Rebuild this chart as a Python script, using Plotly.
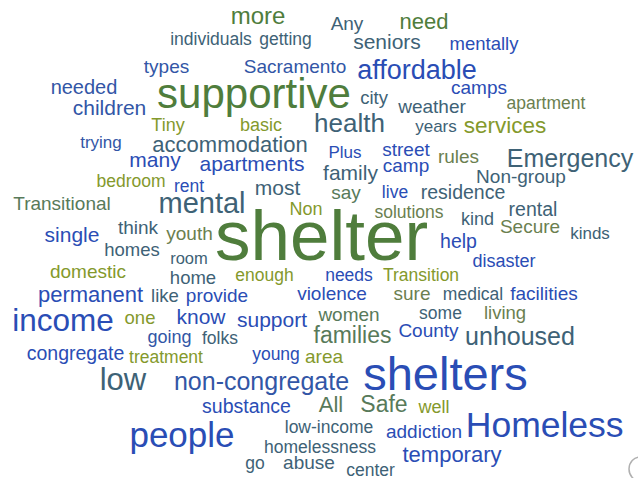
import plotly.graph_objects as go

BLUE = "#2a4db5"
BLUE2 = "#3256a6"
SLATE = "#3e6276"
GREEN = "#4f7d3c"
GGRAY = "#587a5a"
OLIVE = "#84992c"
OLGRAY = "#6b7f50"

words = ["more", "individuals", "getting", "Any", "need", "seniors", "mentally", "types",
         "Sacramento", "affordable", "needed", "supportive", "camps", "city", "weather",
         "apartment", "children", "Tiny", "basic", "health", "years", "services", "trying",
         "accommodation", "Plus", "street", "rules", "Emergency", "many", "apartments", "camp",
         "family", "Non-group", "bedroom", "rent", "most", "say", "live", "residence",
         "Transitional", "mental", "Non", "solutions", "rental", "kind", "Secure", "kinds",
         "think", "single", "youth", "shelter", "homes", "help", "room", "disaster",
         "domestic", "home", "enough", "needs", "Transition", "permanent", "like", "provide",
         "violence", "sure", "medical", "facilities", "income", "one", "know", "support",
         "women", "some", "living", "County", "families", "unhoused", "going", "folks",
         "congregate", "treatment", "young", "area", "low", "non-congregate", "shelters",
         "substance", "All", "Safe", "well", "people", "low-income", "addiction", "Homeless",
         "homelessness", "temporary", "go", "abuse", "center"]

word_x = [258, 211, 285.5, 347, 424, 387, 484, 166.5,
          295, 417, 84, 254, 479, 374, 432,
          546, 109.5, 168, 261, 349.5, 436, 505, 101,
          230, 345, 406, 458.5, 570, 155, 252, 406,
          350.5, 521, 131, 189, 277.5, 346, 395, 463,
          62, 202, 306, 409, 533, 477.5, 530, 590,
          138, 72, 189.5, 321.5, 132, 458.5, 189, 504,
          88, 193, 264.5, 349, 421, 90.5, 165, 217,
          332, 412, 473, 544, 63, 140, 201, 272,
          349, 440.5, 505, 428.5, 352.5, 520, 169.5, 220,
          75.5, 166, 276, 324, 123, 261.5, 445.5,
          246.5, 331, 384, 434, 182, 329, 424, 544.7,
          320, 452, 255, 309, 370.5]

word_baseline = [24, 45, 45, 30, 29, 49, 50, 73,
                 73, 79, 94, 108, 94, 104, 113,
                 109, 115, 131, 131, 132, 132, 133, 148,
                 152, 158, 156, 163, 167, 167, 171, 172,
                 180, 183, 187, 192, 195, 199, 198, 199,
                 210, 213, 215, 218, 216, 225, 233, 239,
                 234, 242, 240, 260, 256, 248, 264, 267,
                 278, 284, 281, 281, 281, 302, 302, 302,
                 300, 300, 300, 300, 331, 324, 324, 327,
                 321, 319, 319, 337, 343, 345, 343, 344,
                 360, 363, 360, 363, 390, 390, 390,
                 413, 412, 412, 413, 447, 433, 438, 437,
                 453, 462, 469, 469, 476]

word_size = [24, 17.5, 17.5, 19, 22, 21, 18.5, 19,
             19, 27, 20, 42, 19, 18.5, 19,
             17.5, 21, 18, 18, 26, 17, 22.5, 17,
             22, 17, 19, 19, 25, 21, 21, 19,
             21, 19, 17.5, 17.5, 21, 19, 17.5, 19.5,
             19, 29, 18, 17.5, 19.5, 18, 19, 17,
             19, 21, 19, 71, 18.5, 19.5, 16.5, 18,
             19, 18.5, 17.5, 17.5, 17.5, 22, 18.5, 19,
             19, 19, 17.5, 19, 31.5, 18.5, 21, 21,
             19, 17.5, 18.5, 19, 23, 25, 18, 17.5,
             19.5, 17.5, 17.5, 19, 31, 25, 47,
             19.5, 22, 23, 18, 35, 17.5, 19, 35.5,
             17.5, 22, 17.5, 19, 17.5]

word_color = [GREEN, SLATE, SLATE, SLATE, GREEN, SLATE, BLUE, BLUE2,
              BLUE2, BLUE, BLUE2, GREEN, BLUE, SLATE, SLATE,
              OLGRAY, BLUE2, OLIVE, OLIVE, SLATE, SLATE, OLIVE, BLUE2,
              SLATE, BLUE, BLUE, OLGRAY, SLATE, BLUE, BLUE, BLUE,
              SLATE, SLATE, OLIVE, BLUE, SLATE, GGRAY, BLUE, SLATE,
              GGRAY, SLATE, OLIVE, OLGRAY, SLATE, SLATE, OLGRAY, SLATE,
              SLATE, BLUE, OLGRAY, GREEN, SLATE, BLUE, SLATE, BLUE,
              OLIVE, SLATE, OLIVE, BLUE, OLIVE, BLUE, SLATE, BLUE,
              BLUE, OLGRAY, SLATE, BLUE, BLUE, OLIVE, BLUE, BLUE,
              GGRAY, SLATE, OLGRAY, BLUE, GGRAY, SLATE, BLUE2, SLATE,
              BLUE, OLIVE, BLUE, OLIVE, SLATE, BLUE2, BLUE,
              BLUE, GGRAY, GGRAY, OLIVE, BLUE, SLATE, BLUE, BLUE,
              SLATE, BLUE, SLATE, SLATE, SLATE]

# Plotly "middle center" text places the baseline 0.25em below the anchor point
word_y = [b - 0.25 * s for b, s in zip(word_baseline, word_size)]

fig = go.Figure(go.Scatter(
    x=word_x, y=word_y, text=words, mode="text",
    textposition="middle center",
    textfont=dict(family="Liberation Sans, Arial, sans-serif", size=word_size, color=word_color),
    hoverinfo="skip", showlegend=False,
))

fig.add_shape(type="circle", x0=629, x1=651, y0=457, y1=481,
              line=dict(color="#b0b0b0", width=1.5))

fig.update_layout(
    width=638, height=478,
    margin=dict(l=0, r=0, t=0, b=0),
    paper_bgcolor="white", plot_bgcolor="white",
    xaxis=dict(range=[0, 638], visible=False, fixedrange=True),
    yaxis=dict(range=[478, 0], visible=False, fixedrange=True),
)

fig.write_html("out.html", config={"displayModeBar": False},
               post_script="document.body.style.margin='0px';document.body.style.overflow='hidden';")
